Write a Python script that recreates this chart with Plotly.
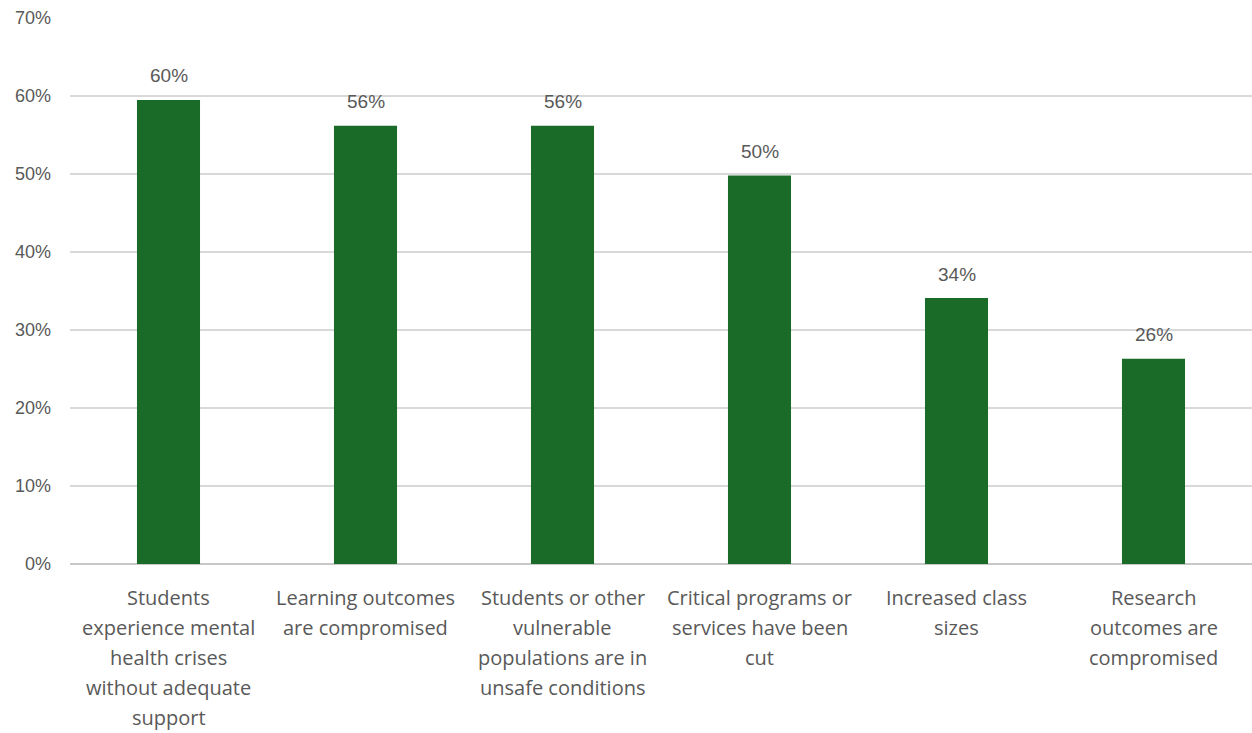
import plotly.graph_objects as go

categories = [
    ["Students", "experience mental", "health crises", "without adequate", "support"],
    ["Learning outcomes", "are compromised"],
    ["Students or other", "vulnerable", "populations are in", "unsafe conditions"],
    ["Critical programs or", "services have been", "cut"],
    ["Increased class", "sizes"],
    ["Research", "outcomes are", "compromised"],
]
values = [0.595, 0.562, 0.562, 0.498, 0.341, 0.263]
labels = ["60%", "56%", "56%", "50%", "34%", "26%"]
tick_vals = [0, 0.1, 0.2, 0.3, 0.4, 0.5, 0.6, 0.7]
tick_text = ["0%", "10%", "20%", "30%", "40%", "50%", "60%", "70%"]

xs = list(range(len(categories)))

fig = go.Figure()
fig.add_trace(go.Bar(
    x=xs,
    y=values,
    width=0.32,
    marker=dict(color="#196b27", line=dict(width=0)),
    cliponaxis=False,
))

annotations = []
for i, (v, lab) in enumerate(zip(values, labels)):
    annotations.append(dict(
        x=i, y=v, xref="x", yref="y", text=lab, showarrow=False,
        yanchor="middle", yshift=24,
        font=dict(family="Liberation Sans, Arial", size=19, color="#595959"),
    ))
for i, lines in enumerate(categories):
    for j, line in enumerate(lines):
        annotations.append(dict(
            x=i, y=0, xref="x", yref="paper", text=line, showarrow=False,
            yanchor="middle", xanchor="center", yshift=-(33 + 30.2 * j),
            font=dict(family="Open Sans, sans-serif", size=20, color="#595959"),
        ))

fig.update_layout(
    width=1252, height=733,
    margin=dict(l=70, r=0, t=18, b=169),
    paper_bgcolor="white", plot_bgcolor="white",
    showlegend=False,
    annotations=annotations,
    xaxis=dict(
        tickmode="array",
        tickvals=xs,
        showticklabels=False,
        range=[-0.5, 5.5],
        showgrid=False,
        showline=False,
        ticks="",
    ),
    yaxis=dict(
        range=[0, 0.7],
        tickvals=tick_vals,
        ticktext=tick_text,
        showgrid=True,
        gridcolor="#d9d9d9",
        gridwidth=1.5,
        zeroline=True,
        zerolinecolor="#c8c8c8",
        zerolinewidth=1.5,
        tickfont=dict(family="Liberation Sans, Arial", size=18, color="#595959"),
        ticks="",
        ticklabelstandoff=18,
    ),
)

fig.write_html("out.html")
